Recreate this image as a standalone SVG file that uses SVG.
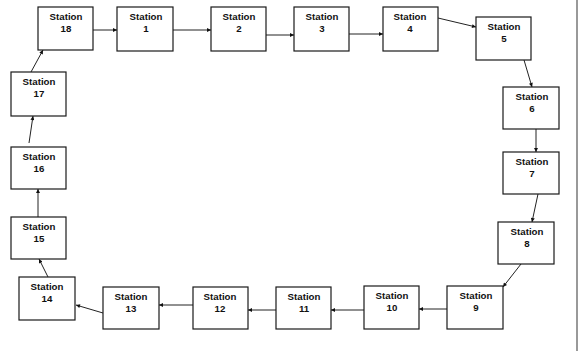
<svg xmlns="http://www.w3.org/2000/svg" width="578" height="351" viewBox="0 0 578 351">
<style>
.n rect{fill:#fff;stroke:#1a1a1a;stroke-width:1.2}
.n text{font-family:"Liberation Sans",Arial,sans-serif;font-weight:bold;font-size:9.7px;fill:#111;text-anchor:middle}
.c line{stroke:#222;stroke-width:1;marker-end:url(#ah)}
</style>
<defs>
<marker id="ah" viewBox="0 0 10 10" refX="10" refY="5" markerWidth="5" markerHeight="4" markerUnits="userSpaceOnUse" orient="auto">
<path d="M0,0 L10,5 L0,10 z" fill="#111"/>
</marker>
</defs>
<rect x="0" y="0" width="578" height="351" fill="#fff"/>
<line x1="577" y1="0" x2="577" y2="351" stroke="#555" stroke-width="1.2"/>
<g class="c">
<line x1="93" y1="30" x2="117" y2="30"/>
<line x1="173" y1="30" x2="211" y2="30"/>
<line x1="266" y1="35" x2="294" y2="35"/>
<line x1="349" y1="34" x2="383" y2="34"/>
<line x1="438" y1="18" x2="476" y2="27"/>
<line x1="524" y1="60" x2="532" y2="87"/>
<line x1="536" y1="129" x2="536" y2="152"/>
<line x1="538" y1="194" x2="532" y2="222"/>
<line x1="521" y1="264" x2="503" y2="287"/>
<line x1="447" y1="309" x2="419" y2="309"/>
<line x1="364" y1="310" x2="331" y2="310"/>
<line x1="276" y1="310" x2="248" y2="310"/>
<line x1="193" y1="305" x2="159" y2="305"/>
<line x1="103" y1="313" x2="76" y2="305"/>
<line x1="48" y1="277" x2="39" y2="259"/>
<line x1="38" y1="217" x2="38" y2="189"/>
<line x1="29" y1="143" x2="33" y2="116"/>
<line x1="31" y1="72" x2="43" y2="50"/>
</g>
<g id="station18" class="n"><rect x="38" y="7" width="55" height="43"/><text x="66" y="20">Station</text><text x="66" y="31.5">18</text></g>
<g id="station1" class="n"><rect x="117" y="7" width="56" height="44"/><text x="146" y="20">Station</text><text x="146" y="31.5">1</text></g>
<g id="station2" class="n"><rect x="211" y="7" width="55" height="44"/><text x="239" y="20">Station</text><text x="239" y="31.5">2</text></g>
<g id="station3" class="n"><rect x="294" y="7" width="55" height="44"/><text x="322" y="20">Station</text><text x="322" y="31.5">3</text></g>
<g id="station4" class="n"><rect x="383" y="7" width="55" height="44"/><text x="410" y="20">Station</text><text x="410" y="31.5">4</text></g>
<g id="station5" class="n"><rect x="476" y="17" width="55" height="43"/><text x="504" y="30">Station</text><text x="504" y="41.5">5</text></g>
<g id="station6" class="n"><rect x="503" y="87" width="56" height="42"/><text x="532" y="100">Station</text><text x="532" y="111.5">6</text></g>
<g id="station7" class="n"><rect x="503" y="152" width="56" height="42"/><text x="532" y="165">Station</text><text x="532" y="176.5">7</text></g>
<g id="station8" class="n"><rect x="498" y="222" width="56" height="42"/><text x="527" y="235">Station</text><text x="527" y="246.5">8</text></g>
<g id="station9" class="n"><rect x="447" y="286" width="56" height="43"/><text x="476" y="299">Station</text><text x="476" y="310.5">9</text></g>
<g id="station10" class="n"><rect x="364" y="286" width="55" height="43"/><text x="392" y="299">Station</text><text x="392" y="310.5">10</text></g>
<g id="station11" class="n"><rect x="276" y="287" width="55" height="42"/><text x="304" y="300">Station</text><text x="304" y="311.5">11</text></g>
<g id="station12" class="n"><rect x="193" y="287" width="55" height="42"/><text x="220" y="300">Station</text><text x="220" y="311.5">12</text></g>
<g id="station13" class="n"><rect x="103" y="287" width="56" height="42"/><text x="131" y="300">Station</text><text x="131" y="311.5">13</text></g>
<g id="station14" class="n"><rect x="19" y="277" width="56" height="43"/><text x="47" y="290">Station</text><text x="47" y="301.5">14</text></g>
<g id="station15" class="n"><rect x="11" y="217" width="55" height="42"/><text x="39" y="230">Station</text><text x="39" y="241.5">15</text></g>
<g id="station16" class="n"><rect x="11" y="147" width="55" height="42"/><text x="39" y="160">Station</text><text x="39" y="171.5">16</text></g>
<g id="station17" class="n"><rect x="11" y="72" width="55" height="44"/><text x="39" y="85">Station</text><text x="39" y="96.5">17</text></g>
</svg>
